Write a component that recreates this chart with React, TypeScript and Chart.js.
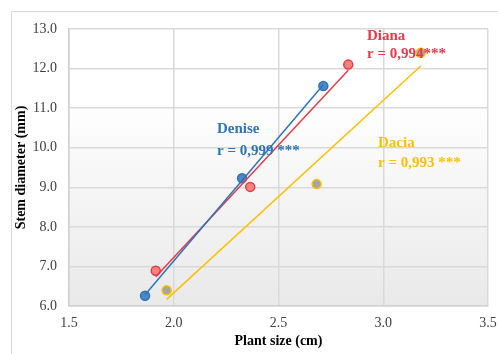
import React, { useEffect, useRef } from "react";
import { Chart, registerables } from "chart.js";

Chart.register(...registerables);

const xTicks = [1.5, 2.0, 2.5, 3.0, 3.5];
const yTicks = [6, 7, 8, 9, 10, 11, 12, 13];

const deniseX = [1.863, 2.326, 2.714];
const deniseY = [6.26, 9.23, 11.56];
const dianaX = [1.914, 2.365, 2.833];
const dianaY = [6.89, 9.01, 12.1];
const daciaX = [1.966, 2.682, 3.179];
const daciaY = [6.4, 9.08, 12.4];

const seriesNames = ["Denise", "Diana", "Dacia"];
const rLabels = ["r = 0,999 ***", "r = 0,994***", "r = 0,993 ***"];

function pts(xs: number[], ys: number[]) {
  return xs.map((x, i) => ({ x, y: ys[i] }));
}

function trend(xs: number[], ys: number[]) {
  const n = xs.length;
  const mx = xs.reduce((a, b) => a + b, 0) / n;
  const my = ys.reduce((a, b) => a + b, 0) / n;
  let sxy = 0;
  let sxx = 0;
  for (let i = 0; i < n; i++) {
    sxy += (xs[i] - mx) * (ys[i] - my);
    sxx += (xs[i] - mx) * (xs[i] - mx);
  }
  const b = sxy / sxx;
  const a = my - b * mx;
  const x0 = Math.min(...xs);
  const x1 = Math.max(...xs);
  return [
    { x: x0, y: a + b * x0 },
    { x: x1, y: a + b * x1 },
  ];
}

const BLUE = "#2E75B6";
const RED = "#E8394A";
const GOLD = "#FFC000";

const bgPlugin = {
  id: "bgPlugin",
  beforeDraw(chart: any) {
    const { ctx, chartArea } = chart;
    ctx.save();
    ctx.strokeStyle = "#d9d9d9";
    ctx.lineWidth = 1;
    ctx.strokeRect(11.5, 11.5, 700, 700);
    const g = ctx.createLinearGradient(0, chartArea.top, 0, chartArea.bottom);
    g.addColorStop(0, "#ffffff");
    g.addColorStop(0.25, "#ffffff");
    g.addColorStop(1, "#e9e9e9");
    ctx.fillStyle = g;
    ctx.fillRect(chartArea.left, chartArea.top, chartArea.right - chartArea.left, chartArea.bottom - chartArea.top);
    ctx.restore();
  },
};

const labelPlugin = {
  id: "labelPlugin",
  afterDatasetsDraw(chart: any) {
    const { ctx } = chart;
    const items = [
      { name: seriesNames[0], r: rLabels[0], color: BLUE, x: 217, y1: 133, y2: 155 },
      { name: seriesNames[1], r: rLabels[1], color: RED, x: 367, y1: 40, y2: 58 },
      { name: seriesNames[2], r: rLabels[2], color: GOLD, x: 378, y1: 147, y2: 167 },
    ];
    ctx.save();
    ctx.font = "bold 15px 'Liberation Serif', 'Times New Roman', serif";
    ctx.textBaseline = "alphabetic";
    ctx.textAlign = "left";
    for (const it of items) {
      ctx.fillStyle = it.color;
      ctx.fillText(it.name, it.x, it.y1);
      ctx.fillText(it.r, it.x, it.y2);
    }
    ctx.restore();
  },
};

export default function App() {
  const ref = useRef<HTMLCanvasElement | null>(null);
  useEffect(() => {
    if (!ref.current) return;
    const pointDs = (label: string, data: any[], fill: string, border: string) => ({
      label,
      data,
      showLine: false,
      pointRadius: 4.5,
      pointBackgroundColor: fill,
      pointBorderColor: border,
      pointBorderWidth: 1.5,
      order: 2,
    });
    const lineDs = (label: string, data: any[], color: string) => ({
      label,
      data,
      showLine: true,
      borderColor: color,
      borderWidth: 1.5,
      pointRadius: 0,
      fill: false,
      order: 1,
    });
    const chart = new Chart(ref.current, {
      type: "scatter",
      data: {
        datasets: [
          pointDs("Denise", pts(deniseX, deniseY), "#4F86C6", BLUE),
          pointDs("Diana", pts(dianaX, dianaY), "#F4837D", RED),
          pointDs("Dacia", pts(daciaX, daciaY), "#A5A5A5", GOLD),
          lineDs("Denise trend", trend(deniseX, deniseY), BLUE),
          lineDs("Diana trend", trend(dianaX, dianaY), RED),
          lineDs("Dacia trend", trend(daciaX, daciaY), GOLD),
        ] as any,
      },
      options: {
        animation: false,
        responsive: false,
        layout: { padding: { top: 29, right: 10, left: 0, bottom: 0 } },
        plugins: { legend: { display: false }, tooltip: { enabled: false } },
        scales: {
          x: {
            type: "linear",
            min: xTicks[0],
            max: xTicks[xTicks.length - 1],
            afterBuildTicks: (s: any) => {
              s.ticks = xTicks.map((v) => ({ value: v }));
            },
            afterFit: (s: any) => {
              s.height = 48;
              s.paddingLeft = 0;
              s.paddingRight = 0;
            },
            ticks: {
              callback: (v: any) => Number(v).toFixed(1),
              color: "#404040",
              padding: 9,
              maxRotation: 0,
              font: { family: "'Liberation Serif', serif", size: 14 },
            },
            grid: { color: "#d9d9d9", lineWidth: 1.5, drawTicks: false },
            border: { color: "#d0d0d0", width: 1.5 },
            title: {
              display: true,
              text: "Plant size (cm)",
              color: "#000",
              padding: { top: 0, bottom: 4 },
              font: { family: "'Liberation Serif', serif", size: 14, weight: "bold" },
            },
          },
          y: {
            type: "linear",
            min: yTicks[0],
            max: yTicks[yTicks.length - 1],
            afterBuildTicks: (s: any) => {
              s.ticks = yTicks.map((v) => ({ value: v }));
            },
            afterFit: (s: any) => {
              s.width = 69;
              s.paddingTop = 0;
              s.paddingBottom = 0;
            },
            ticks: {
              callback: (v: any) => Number(v).toFixed(1),
              color: "#404040",
              padding: 12,
              font: { family: "'Liberation Serif', serif", size: 14 },
            },
            grid: { color: "#d9d9d9", lineWidth: 1.5, drawTicks: false },
            border: { color: "#d0d0d0", width: 1.5 },
            title: {
              display: true,
              text: "Stem diameter (mm)",
              color: "#000",
              padding: { top: 13, bottom: 0 },
              font: { family: "'Liberation Serif', serif", size: 14, weight: "bold" },
            },
          },
        },
      } as any,
      plugins: [bgPlugin, labelPlugin],
    });
    return () => chart.destroy();
  }, []);
  return (
    <div style={{ position: "fixed", left: 0, top: 0, width: 498, height: 354, background: "#fff" }}>
      <canvas ref={ref} width={498} height={354} style={{ display: "block", width: 498, height: 354 }} />
    </div>
  );
}
